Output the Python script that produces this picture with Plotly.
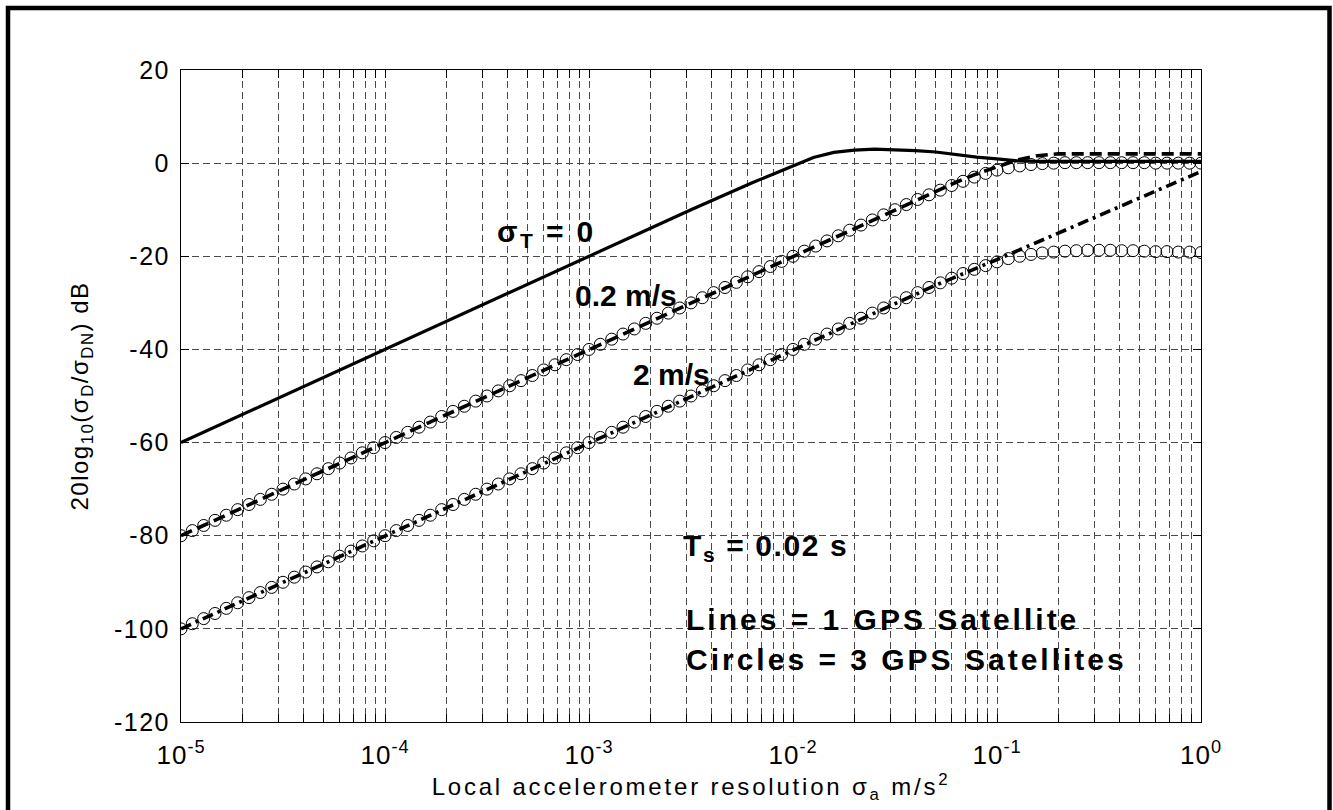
import plotly.graph_objects as go

# ---------------- data ----------------
# sample grid of the circle series (log-spaced, 18 points per decade)
X_CIRC = [
    1.000e-5, 1.136e-5, 1.292e-5, 1.468e-5, 1.668e-5, 1.896e-5, 2.154e-5, 2.448e-5, 2.783e-5,
    3.162e-5, 3.594e-5, 4.084e-5, 4.642e-5, 5.275e-5, 5.995e-5, 6.813e-5, 7.743e-5, 8.799e-5,
    1.000e-4, 1.136e-4, 1.292e-4, 1.468e-4, 1.668e-4, 1.896e-4, 2.154e-4, 2.448e-4, 2.783e-4,
    3.162e-4, 3.594e-4, 4.084e-4, 4.642e-4, 5.275e-4, 5.995e-4, 6.813e-4, 7.743e-4, 8.799e-4,
    1.000e-3, 1.136e-3, 1.292e-3, 1.468e-3, 1.668e-3, 1.896e-3, 2.154e-3, 2.448e-3, 2.783e-3,
    3.162e-3, 3.594e-3, 4.084e-3, 4.642e-3, 5.275e-3, 5.995e-3, 6.813e-3, 7.743e-3, 8.799e-3,
    1.000e-2, 1.136e-2, 1.292e-2, 1.468e-2, 1.668e-2, 1.896e-2, 2.154e-2, 2.448e-2, 2.783e-2,
    3.162e-2, 3.594e-2, 4.084e-2, 4.642e-2, 5.275e-2, 5.995e-2, 6.813e-2, 7.743e-2, 8.799e-2,
    1.000e-1, 1.136e-1, 1.292e-1, 1.468e-1, 1.668e-1, 1.896e-1, 2.154e-1, 2.448e-1, 2.783e-1,
    3.162e-1, 3.594e-1, 4.084e-1, 4.642e-1, 5.275e-1, 5.995e-1, 6.813e-1, 7.743e-1, 8.799e-1,
    1.000,
]

# 0.2 m/s, 3 GPS satellites (circles)
Y_CIRC_02 = [
    -80.0, -78.9, -77.8, -76.7, -75.6, -74.4, -73.3, -72.2, -71.1,
    -70.0, -68.9, -67.8, -66.7, -65.6, -64.4, -63.3, -62.2, -61.1,
    -60.0, -58.9, -57.8, -56.7, -55.6, -54.4, -53.3, -52.2, -51.1,
    -50.0, -48.9, -47.8, -46.7, -45.6, -44.4, -43.3, -42.2, -41.1,
    -40.0, -38.9, -37.8, -36.7, -35.6, -34.4, -33.3, -32.2, -31.1,
    -30.0, -28.9, -27.8, -26.7, -25.6, -24.4, -23.3, -22.2, -21.1,
    -20.0, -18.9, -17.8, -16.7, -15.6, -14.4, -13.3, -12.2, -11.1,
    -10.0, -8.9, -7.8, -6.8, -5.8, -4.8, -3.9, -3.0, -2.2,
    -1.5, -1.0, -0.6, -0.3, -0.1, 0.0, 0.1, 0.1, 0.1,
    0.1, 0.1, 0.1, 0.1, 0.1, 0.0, 0.0, 0.0, 0.0,
    0.0,
]

# 2 m/s, 3 GPS satellites (circles)
Y_CIRC_2 = [
    -100.0, -98.9, -97.8, -96.7, -95.6, -94.4, -93.3, -92.2, -91.1,
    -90.0, -88.9, -87.8, -86.7, -85.6, -84.4, -83.3, -82.2, -81.1,
    -80.0, -78.9, -77.8, -76.7, -75.6, -74.4, -73.3, -72.2, -71.1,
    -70.0, -68.9, -67.8, -66.7, -65.6, -64.4, -63.3, -62.2, -61.1,
    -60.0, -58.9, -57.8, -56.7, -55.6, -54.4, -53.3, -52.2, -51.1,
    -50.0, -48.9, -47.8, -46.7, -45.6, -44.4, -43.3, -42.2, -41.1,
    -40.0, -38.9, -37.8, -36.7, -35.6, -34.4, -33.3, -32.2, -31.1,
    -30.0, -28.9, -27.8, -26.7, -25.7, -24.7, -23.7, -22.8, -22.0,
    -21.2, -20.5, -20.0, -19.6, -19.3, -19.1, -18.9, -18.8, -18.7,
    -18.7, -18.7, -18.8, -18.8, -18.9, -19.0, -19.0, -19.1, -19.1,
    -19.2,
]

# sigma_T = 0 (solid line)
X_SOLID = [1e-5, 1e-4, 1e-3, 3.162e-3, 6.31e-3, 1e-2, 1.259e-2, 1.585e-2, 2e-2, 2.512e-2,
           3.162e-2, 3.981e-2, 5.012e-2, 6.31e-2, 7.943e-2, 1e-1, 1.259e-1, 1.585e-1, 1.0]
Y_SOLID = [-60.0, -40.0, -20.0, -10.0, -4.2, -0.6, 1.2, 2.3, 2.8, 3.0,
           2.9, 2.7, 2.4, 1.8, 1.3, 0.9, 0.5, 0.4, 0.4]

# 0.2 m/s, 1 GPS satellite (dashed line)
X_DASH = [1e-5, 3.162e-2, 5.012e-2, 6.31e-2, 7.943e-2, 1e-1, 1.259e-1, 1.585e-1, 2e-1, 1.0]
Y_DASH = [-80.0, -10.0, -6.0, -4.1, -2.3, -0.7, 0.7, 1.6, 2.0, 2.0]

# 2 m/s, 1 GPS satellite (dash-dot line)
X_DASHDOT = [1e-5, 1e-2, 5.012e-2, 1e-1, 3.162e-1, 1.0]
Y_DASHDOT = [-100.0, -40.0, -26.2, -20.7, -11.2, -1.8]

X_TICKS = [1e-5, 1e-4, 1e-3, 1e-2, 1e-1, 1.0]
X_TICK_TEXT = ["10<sup>-5</sup>", "10<sup>-4</sup>", "10<sup>-3</sup>",
               "10<sup>-2</sup>", "10<sup>-1</sup>", "10<sup>0</sup>"]
X_MINOR = [m * d for d in (1e-5, 1e-4, 1e-3, 1e-2, 1e-1) for m in (2, 3, 4, 5, 6, 7, 8, 9)]
Y_TICKS = [-120, -100, -80, -60, -40, -20, 0, 20]
Y_TICK_TEXT = ["-120", "-100", "-80", "-60", "-40", "-20", "0", "20"]

# ---------------- figure ----------------
FONT = "Liberation Sans, Arial, sans-serif"
fig = go.Figure()

fig.add_trace(go.Scatter(x=X_SOLID, y=Y_SOLID, mode="lines",
                         line=dict(color="black", width=3.2), showlegend=False))
fig.add_trace(go.Scatter(x=X_DASH, y=Y_DASH, mode="lines",
                         line=dict(color="black", width=3.6, dash="12px,6px"), showlegend=False))
fig.add_trace(go.Scatter(x=X_DASHDOT, y=Y_DASHDOT, mode="lines",
                         line=dict(color="black", width=3.6, dash="11px,5px,3px,5px"), showlegend=False))
for yy in (Y_CIRC_02, Y_CIRC_2):
    fig.add_trace(go.Scatter(x=X_CIRC, y=yy, mode="markers",
                             marker=dict(symbol="circle-open", size=12, color="black",
                                         line=dict(width=1, color="black")),
                             showlegend=False))

grid = dict(showgrid=True, gridcolor="#4a4a4a", gridwidth=1, griddash="7px,4px")

fig.update_xaxes(type="log", range=[-5, 0], tickvals=X_TICKS, ticktext=X_TICK_TEXT,
                 ticks="inside", ticklen=8, tickcolor="black", showline=True, linecolor="black",
                 linewidth=1, mirror="ticks", zeroline=False, ticklabelstandoff=10,
                 tickfont=dict(family=FONT, size=26, color="black"),
                 minor=dict(tickvals=X_MINOR, ticks="inside", ticklen=8, tickcolor="black", **grid),
                 title=dict(text="Local accelerometer resolution σ<sub>a</sub> m/s<sup>2</sup>",
                            font=dict(family=FONT, size=24, color="black"), standoff=0),
                 **grid)
fig.update_yaxes(range=[-120, 20], tickvals=Y_TICKS, ticktext=Y_TICK_TEXT, ticks="inside",
                 ticklen=8, tickcolor="black", ticklabelstandoff=5,
                 showline=True, linecolor="black", linewidth=1, mirror="ticks", zeroline=False,
                 tickfont=dict(family=FONT, size=25, color="black"),
                 title=dict(text="20log<sub>10</sub>(σ<sub>D</sub>/σ<sub>DN</sub>) dB",
                            font=dict(family=FONT, size=24, color="black"), standoff=24),
                 **grid)

ann_font = dict(family=FONT, size=30, color="black", weight="bold")
labels = [
    ("σ<sub>T</sub> = 0", -3.461, -15.2),
    ("0.2 m/s", -3.078, -28.4),
    ("2 m/s", -2.794, -45.3),
    ("T<sub>s</sub> = 0.02 s", -2.550, -82.5),
    ("Lines = 1 GPS Satellite", -2.535, -97.9),
    ("Circles = 3 GPS Satellites", -2.535, -106.5),
]
for txt, lx, ly in labels:
    fig.add_annotation(text=txt, x=lx, y=ly, xref="x", yref="y", xanchor="left", yanchor="middle",
                       align="left", showarrow=False, font=ann_font)

# outer thick frame of the figure
fig.add_shape(type="rect", xref="paper", yref="paper",
              x0=(8 - 181) / 1020, x1=(1329.5 - 181) / 1020,
              y0=(722 - 830) / 652, y1=(722 - 8) / 652,
              line=dict(color="black", width=4.5), fillcolor="rgba(0,0,0,0)", layer="above")

fig.update_layout(width=1333, height=810, autosize=False,
                  margin=dict(l=181, r=132, t=70, b=88, pad=0),
                  paper_bgcolor="white", plot_bgcolor="white",
                  font=dict(family=FONT, color="black"))

post = ("var s=document.createElement('style');"
        "s.innerHTML='body{margin:0;overflow:hidden}"
        ".annotation[data-index=\"0\"] .annotation-text{letter-spacing:2.4px}"
        ".annotation[data-index=\"3\"] .annotation-text{letter-spacing:1.6px}"
        ".annotation[data-index=\"4\"] .annotation-text{letter-spacing:3px}"
        ".annotation[data-index=\"5\"] .annotation-text{letter-spacing:3px}"
        ".xtitle{letter-spacing:2.8px}.ytitle{letter-spacing:1.5px}"
        ".xtick text{letter-spacing:1px}.ytick text{letter-spacing:1.5px}';"
        "document.head.appendChild(s);")
fig.write_html("out.html", config={"displayModeBar": False}, post_script=post)
